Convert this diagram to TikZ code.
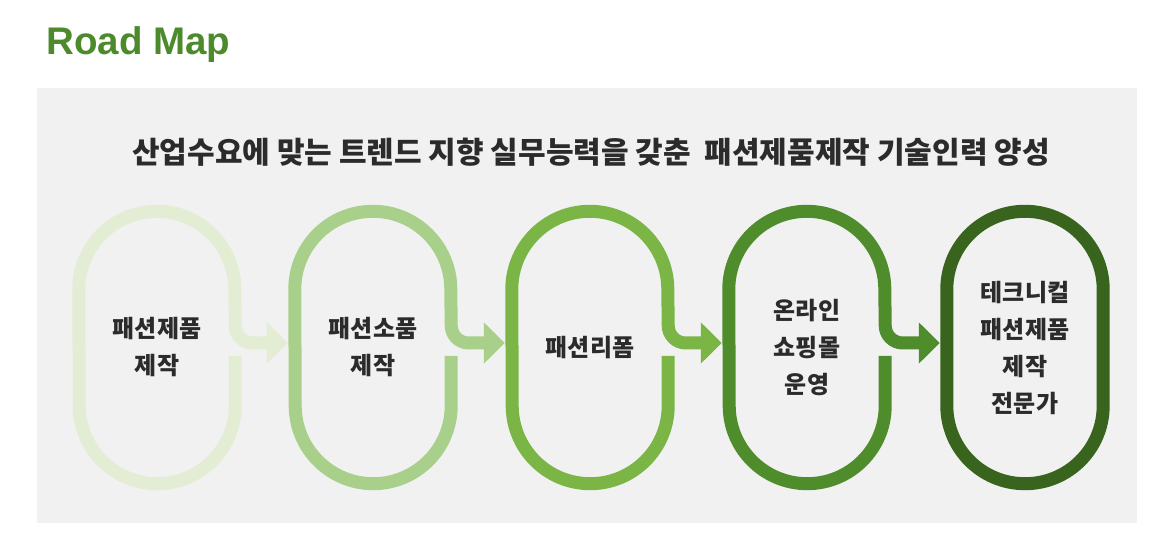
\documentclass[tikz,border=0pt]{standalone}
\usepackage{fontspec}
\usepackage{tikz}
\usetikzlibrary{calc,arrows.meta}
\newfontfamily\cjk{Noto Sans CJK KR}
\newfontfamily\titlefont{Liberation Sans}
\definecolor{rm-title}{HTML}{4D8A2C}
\definecolor{rm-panel}{HTML}{F1F1F1}
\definecolor{rm-text}{HTML}{2B2B2B}
\definecolor{rm-a}{HTML}{E2EDD3}
\definecolor{rm-b}{HTML}{A9D08A}
\definecolor{rm-c}{HTML}{7BB546}
\definecolor{rm-d}{HTML}{4F8D2C}
\definecolor{rm-e}{HTML}{38641E}

\begin{document}
\begin{tikzpicture}[x=1pt, y=1pt,
    stage/.style={minimum width=156pt, minimum height=272pt, inner sep=0pt,
      align=center, text=rm-text, font=\cjk\bfseries\fontsize{24}{37}\selectfont},
    loop/.style={line width=13pt},
    tip/.style={-{Triangle[width=40pt, length=21pt]}}]
    \useasboundingbox (0,0) rectangle (1170,540);
    \fill[rm-panel] (37,17) rectangle (1137,452);
    \node[anchor=base west, text=rm-title, font=\titlefont\bfseries\fontsize{38.5}{44}\selectfont] (title) at (43,485) {Road Map};
    \node[text=rm-text, font=\cjk\bfseries\fontsize{30}{36}\selectfont] (goal) at (591,388) {산업수요에 맞는 트렌드 지향 실무능력을 갖춘\ \ 패션제품제작 기술인력 양성};

    \node[stage] (st1) at (157,192.5) {패션제품\\제작};
    \node[stage] (st2) at (373,192.5) {패션소품\\제작};
    \node[stage] (st3) at (590,192.5) {패션리폼};
    \node[stage] (st4) at (807,192.5) {온라인\\쇼핑몰\\운영};
    \node[stage] (st5) at (1025,192.5) {테크니컬\\패션제품\\제작\\전문가};

    \foreach \i/\j/\c in {1/2/rm-a, 2/3/rm-b, 3/4/rm-c, 4/5/rm-d}
      \draw[loop, \c, tip] ([yshift=-8.5pt]st\i.east) -- ([yshift=78pt]st\i.south east)
        arc(0:-180:78pt) -- ([yshift=-78pt]st\i.north west)
        arc(180:0:78pt) -- ([yshift=22pt]st\i.east)
        arc(180:270:17.5pt) -- ([xshift=-7pt, yshift=4.5pt]st\j.west);
    \draw[loop, rm-e, rounded corners=78pt] (st5.south west) rectangle (st5.north east);
\end{tikzpicture}
\end{document}
